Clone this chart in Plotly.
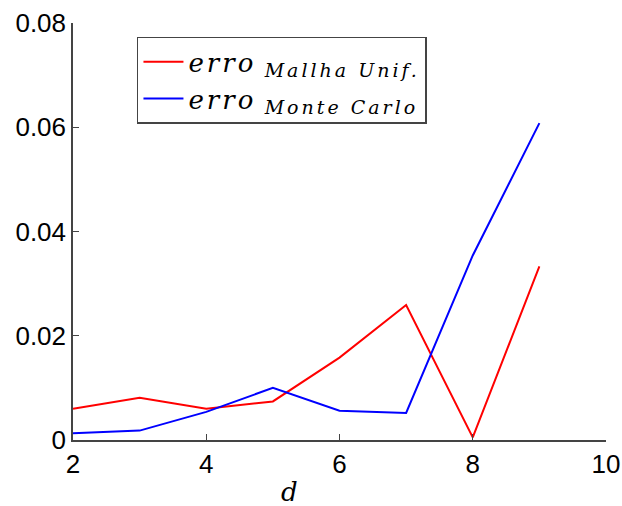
import plotly.graph_objects as go

# Dimension d and the two error estimates
d = [2, 3, 4, 5, 6, 7, 8, 9]
erro_malha = [0.0060, 0.0081, 0.0060, 0.0074, 0.0158, 0.0259, 0.0005, 0.0333]
erro_mc = [0.0013, 0.0018, 0.0054, 0.0100, 0.0056, 0.0052, 0.0354, 0.0608]

x_ticks = [2, 4, 6, 8, 10]
y_ticks = [0, 0.02, 0.04, 0.06, 0.08]
y_ticklabels = ["0", "0.02", "0.04", "0.06", "0.08"]

serif = "DejaVu Serif"


def legend_label(sub):
    return ("<span style='letter-spacing:3px'><i>erro</i></span> "
            f"<sub><span style='font-size:19px;letter-spacing:3px'><i>{sub}</i></span></sub>")


fig = go.Figure()
fig.add_trace(go.Scatter(x=d, y=erro_malha, mode="lines",
                         line=dict(color="#ff0000", width=2),
                         name=legend_label("Mallha Unif.")))
fig.add_trace(go.Scatter(x=d, y=erro_mc, mode="lines",
                         line=dict(color="#0000ff", width=2),
                         name=legend_label("Monte Carlo")))

axis_common = dict(showgrid=False, zeroline=False, showline=True,
                   linecolor="#444444", linewidth=1.5, automargin=False,
                   ticks="inside", ticklen=6, tickwidth=1.2, tickcolor="#444444",
                   tickfont=dict(family="Liberation Sans, Arial", size=26, color="#000000"))

fig.update_layout(
    width=622, height=506,
    margin=dict(l=73, r=16, t=23, b=66),
    plot_bgcolor="white", paper_bgcolor="white",
    xaxis=dict(range=[2, 10], tickvals=x_ticks, ticktext=[str(v) for v in x_ticks],
               ticklabelstandoff=0, **axis_common),
    yaxis=dict(range=[0, 0.08], tickvals=y_ticks, ticktext=y_ticklabels, **axis_common),
    legend=dict(x=0.12, y=0.967, xanchor="left", yanchor="top",
                bgcolor="white", bordercolor="#444444", borderwidth=1.5,
                font=dict(family=serif, size=26, color="#000000"),
                tracegroupgap=0, itemwidth=40),
    showlegend=True,
)

# Axis label for the dimension, below the tick labels
fig.add_annotation(text="<i>d</i>", xref="paper", yref="paper", x=0.407, y=-0.125,
                   xanchor="center", yanchor="middle", showarrow=False,
                   font=dict(family=serif, size=26, color="#000000"))

fig.write_html("out.html")
